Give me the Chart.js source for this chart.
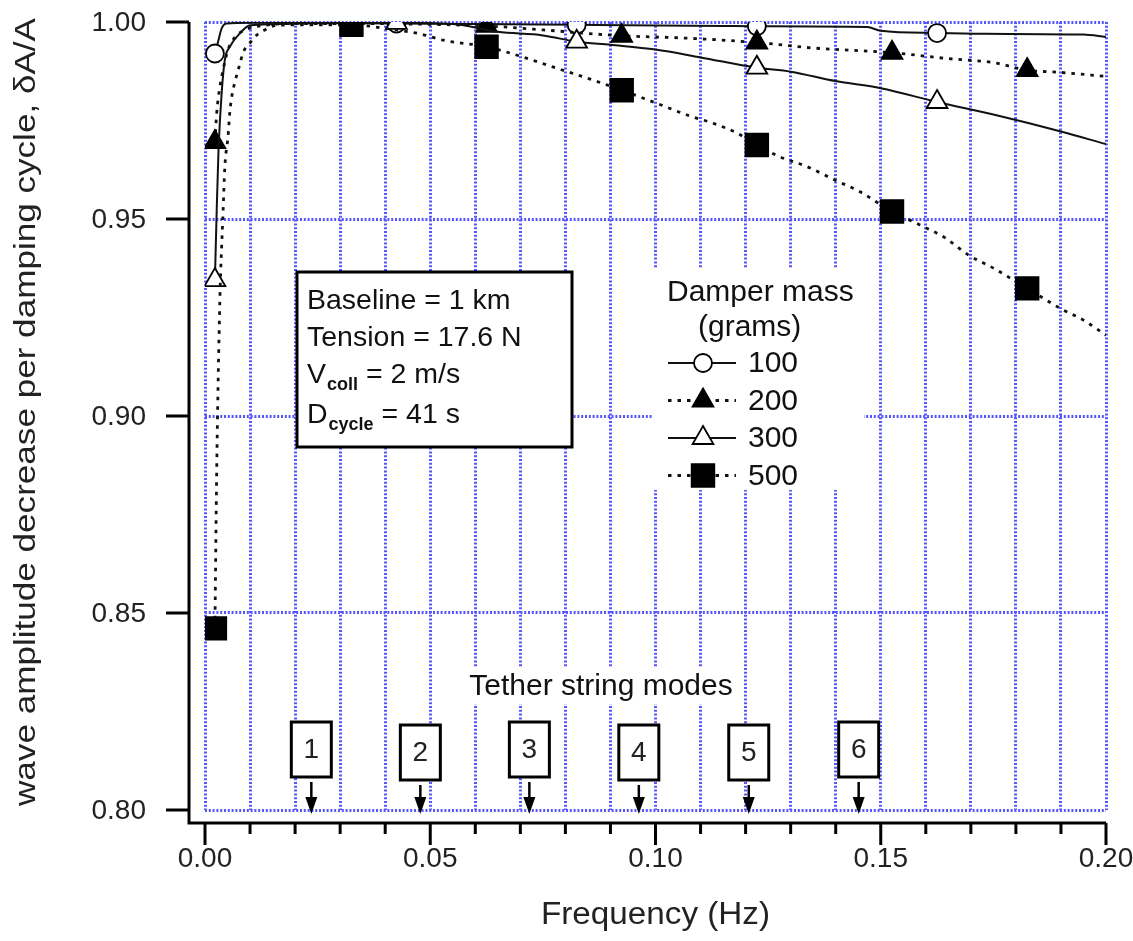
<!DOCTYPE html>
<html>
<head>
<meta charset="utf-8">
<script src="https://cdn.jsdelivr.net/npm/chart.js@4.4.0/dist/chart.umd.min.js"></script>
<style>
  html, body { margin: 0; padding: 0; background: #fff; }
</style>
</head>
<body>
<canvas id="dampingChart" width="1133" height="941"></canvas>
<script>
// Damper mass series (frequency in Hz, amplitude ratio dA/A)
const freq100 = [0.0022, 0.0029, 0.0037, 0.0048, 0.01, 0.0425, 0.0825, 0.115, 0.1225, 0.147, 0.150, 0.1625, 0.173, 0.195, 0.2];
const amp100  = [0.9920, 0.9950, 0.9984, 0.9996, 0.9998, 0.9996, 0.9993, 0.9990, 0.9989, 0.9987, 0.9978, 0.9972, 0.9970, 0.9968, 0.9962];
const mark100 = [0.0022, 0.0425, 0.0825, 0.1225, 0.1625];

const freq200 = [0.0022, 0.0026, 0.0033, 0.0040, 0.0051, 0.0067, 0.0089, 0.0122, 0.02, 0.0325, 0.05, 0.0625, 0.075, 0.0925, 0.105, 0.1225, 0.135, 0.1525, 0.165, 0.175, 0.1825, 0.19, 0.2];
const amp200  = [0.9695, 0.9769, 0.9835, 0.9878, 0.9929, 0.9962, 0.9980, 0.9990, 0.9996, 0.9996, 0.9994, 0.9990, 0.9980, 0.9965, 0.9960, 0.9948, 0.9934, 0.9922, 0.9907, 0.9897, 0.9878, 0.9872, 0.9862];
const mark200 = [0.0022, 0.0325, 0.0625, 0.0925, 0.1225, 0.1525, 0.1825];

const freq300 = [0.0022, 0.0026, 0.003, 0.0037, 0.0044, 0.0055, 0.0078, 0.01, 0.0425, 0.055, 0.065, 0.075, 0.0825, 0.09, 0.1, 0.11, 0.1225, 0.13, 0.14, 0.15, 0.1625, 0.175, 0.19, 0.2];
const amp300  = [0.9345, 0.9523, 0.9675, 0.9820, 0.9904, 0.9937, 0.9972, 0.9992, 0.9998, 0.9995, 0.9975, 0.9966, 0.9950, 0.9942, 0.9930, 0.9910, 0.9884, 0.9874, 0.9850, 0.9832, 0.9797, 0.9765, 0.9722, 0.9690];
const mark300 = [0.0022, 0.0425, 0.0825, 0.1225, 0.1625];

const freq500 = [0.0022, 0.0026, 0.0033, 0.0040, 0.0044, 0.0051, 0.0055, 0.0060, 0.0067, 0.0078, 0.0084, 0.0100, 0.0115, 0.0133, 0.016, 0.0325, 0.041, 0.0477, 0.0528, 0.0625, 0.0706, 0.0772, 0.0855, 0.0925, 0.1, 0.1075, 0.1128, 0.1181, 0.1225, 0.1276, 0.1336, 0.1398, 0.1454, 0.1525, 0.1587, 0.1643, 0.1694, 0.1749, 0.1825, 0.1905, 0.1949, 0.2];
const amp500  = [0.8461, 0.8863, 0.9294, 0.9515, 0.9632, 0.9708, 0.9770, 0.9815, 0.9850, 0.9896, 0.9921, 0.9947, 0.9967, 0.9980, 0.9992, 0.9993, 0.9982, 0.9970, 0.9954, 0.9937, 0.9911, 0.9886, 0.9855, 0.9827, 0.9795, 0.9762, 0.9743, 0.9718, 0.9688, 0.9658, 0.9633, 0.9599, 0.9569, 0.9519, 0.9485, 0.9452, 0.9409, 0.9376, 0.9324, 0.9269, 0.9244, 0.9205];
const mark500 = [0.0022, 0.0325, 0.0625, 0.0925, 0.1225, 0.1525, 0.1825];

// axis ticks
const xTickValues = [0, 0.05, 0.10, 0.15, 0.20];
const xTickLabels = ['0.00', '0.05', '0.10', '0.15', '0.20'];
const yTickValues = [0.80, 0.85, 0.90, 0.95, 1.00];
const yTickLabels = ['0.80', '0.85', '0.90', '0.95', '1.00'];

// tether string modes
const modeFreq = [0.0236, 0.0478, 0.0720, 0.0963, 0.1207, 0.1451];
const modeLabels = ['1', '2', '3', '4', '5', '6'];

const infoLines = [
    ['Baseline = 1 km'],
    ['Tension = 17.6 N'],
    ['V', 'coll', ' = 2 m/s'],
    ['D', 'cycle', ' = 41 s']
];
const legendTitle = ['Damper mass', '(grams)'];

const FONT = '"Liberation Sans", Arial, sans-serif';
const GRID_BLUE = '#5656ff';

function makeSet(label, fx, ay, marks, st) {
    return {
        label: label,
        data: fx.map((f, i) => ({ x: f, y: ay[i] })),
        borderColor: '#111',
        borderWidth: st.width,
        borderDash: st.dash,
        borderCapStyle: 'butt',
        pointStyle: st.point,
        pointRadius: (ctx) => (ctx.raw && marks.includes(ctx.raw.x)) ? st.r : 0,
        pointHoverRadius: (ctx) => (ctx.raw && marks.includes(ctx.raw.x)) ? st.r : 0,
        pointBackgroundColor: st.fill,
        pointBorderColor: '#000',
        pointBorderWidth: 1.8,
        cubicInterpolationMode: 'monotone',
        fill: false,
        order: st.order
    };
}

// marker drawing for the hand-made legend (same geometry as Chart.js point styles)
function drawMarker(ctx, style, r, x, y, fill) {
    ctx.save();
    ctx.setLineDash([]);
    ctx.lineWidth = 1.8;
    ctx.strokeStyle = '#000';
    ctx.fillStyle = fill;
    ctx.beginPath();
    if (style === 'circle') {
        ctx.arc(x, y, r, 0, Math.PI * 2);
    } else if (style === 'triangle') {
        for (let k = 0; k < 3; k++) {
            const a = k * 2 * Math.PI / 3;
            const px = x + Math.sin(a) * r, py = y - Math.cos(a) * r;
            if (k === 0) ctx.moveTo(px, py); else ctx.lineTo(px, py);
        }
        ctx.closePath();
    } else {
        const s = r * Math.SQRT1_2;
        ctx.rect(x - s, y - s, 2 * s, 2 * s);
    }
    ctx.fill();
    ctx.stroke();
    ctx.restore();
}

const decorPlugin = {
    id: 'decor',
    beforeDatasetsDraw(chart) {
        const ctx = chart.ctx;
        const xs = chart.scales.x;
        ctx.save();

        // info box
        ctx.fillStyle = '#fff';
        ctx.fillRect(297, 272, 275, 175);
        ctx.lineWidth = 3;
        ctx.strokeStyle = '#000';
        ctx.strokeRect(297, 272, 275, 175);
        ctx.fillStyle = '#111';
        ctx.textBaseline = 'alphabetic';
        ctx.textAlign = 'left';
        const baseY = [309, 346, 383, 423];
        infoLines.forEach((parts, i) => {
            let x = 307;
            ctx.font = '28.5px ' + FONT;
            ctx.fillText(parts[0], x, baseY[i]);
            if (parts.length > 1) {
                x += ctx.measureText(parts[0]).width + 1;
                ctx.font = 'bold 18px ' + FONT;
                ctx.fillText(parts[1], x, baseY[i] + 7);
                x += ctx.measureText(parts[1]).width;
                ctx.font = '28.5px ' + FONT;
                ctx.fillText(parts[2], x, baseY[i]);
            }
        });

        // legend
        ctx.fillStyle = '#fff';
        ctx.fillRect(652, 268, 212, 222);
        ctx.fillStyle = '#111';
        ctx.font = '30px ' + FONT;
        ctx.textBaseline = 'middle';
        ctx.textAlign = 'left';
        ctx.fillText(legendTitle[0], 667, 293);
        ctx.fillText(legendTitle[1], 698, 328);
        chart.data.datasets.forEach((ds, row) => {
            const y = 363 + row * 37.5;
            ctx.save();
            ctx.strokeStyle = '#111';
            ctx.lineWidth = ds.borderWidth;
            ctx.setLineDash(ds.borderDash || []);
            ctx.beginPath();
            ctx.moveTo(668, y);
            ctx.lineTo(736, y);
            ctx.stroke();
            ctx.restore();
            drawMarker(ctx, ds.pointStyle, ds.legendR, 703, y, ds.pointBackgroundColor);
            ctx.fillStyle = '#111';
            ctx.font = '30px ' + FONT;
            ctx.fillText(ds.label, 748, y + 1);
        });

        // tether string modes
        ctx.font = '30px ' + FONT;
        ctx.textAlign = 'center';
        const tw = ctx.measureText('Tether string modes').width;
        ctx.fillStyle = '#fff';
        ctx.fillRect(601 - tw / 2 - 8, 668, tw + 16, 36);
        ctx.fillStyle = '#111';
        ctx.fillText('Tether string modes', 601, 687);
        modeFreq.forEach((f, i) => {
            const px = xs.getPixelForValue(f);
            const top = (i === 0 || i === 2 || i === 5) ? 722 : 725;
            ctx.fillStyle = '#fff';
            ctx.fillRect(px - 20, top, 40, 55);
            ctx.lineWidth = 3;
            ctx.strokeStyle = '#000';
            ctx.strokeRect(px - 20, top, 40, 55);
            ctx.fillStyle = '#222';
            ctx.font = '28px ' + FONT;
            ctx.textBaseline = 'middle';
            ctx.fillText(modeLabels[i], px, top + 28);
            // arrow
            ctx.lineWidth = 2.5;
            ctx.beginPath();
            ctx.moveTo(px, top + 60);
            ctx.lineTo(px, 800);
            ctx.stroke();
            ctx.fillStyle = '#000';
            ctx.beginPath();
            ctx.moveTo(px - 6, 797);
            ctx.lineTo(px + 6, 797);
            ctx.lineTo(px, 814);
            ctx.closePath();
            ctx.fill();
        });
        ctx.restore();
    },
    afterDraw(chart) {
        const ctx = chart.ctx;
        const xs = chart.scales.x, ys = chart.scales.y;
        const area = chart.chartArea;
        const spineX = 189, spineY = 823;
        ctx.save();
        ctx.strokeStyle = '#000';
        ctx.lineWidth = 3;
        ctx.setLineDash([]);
        ctx.beginPath();
        ctx.moveTo(spineX, area.top);
        ctx.lineTo(spineX, spineY);
        ctx.lineTo(area.right, spineY);
        ctx.stroke();

        // y ticks and labels
        ctx.font = '28px ' + FONT;
        ctx.fillStyle = '#222';
        ctx.textAlign = 'right';
        ctx.textBaseline = 'middle';
        yTickValues.forEach((v, i) => {
            const py = ys.getPixelForValue(v);
            ctx.beginPath();
            ctx.moveTo(166, py);
            ctx.lineTo(spineX, py);
            ctx.stroke();
            ctx.fillText(yTickLabels[i], 146, py + 1);
        });

        // x ticks (minor every 0.01) and labels
        for (let k = 0; k <= 20; k++) {
            const px = xs.getPixelForValue(k / 100);
            const major = k % 5 === 0;
            ctx.beginPath();
            ctx.moveTo(px, spineY);
            ctx.lineTo(px, spineY + (major ? 22 : 11));
            ctx.stroke();
        }
        ctx.textAlign = 'center';
        ctx.font = '28px ' + FONT;
        xTickValues.forEach((v, i) => {
            ctx.fillText(xTickLabels[i], xs.getPixelForValue(v), 859);
        });

        // axis titles
        ctx.save();
        ctx.translate((area.left + area.right) / 2, 915);
        ctx.font = '31px ' + FONT;
        const fw = ctx.measureText('Frequency (Hz)').width;
        ctx.scale(229 / fw, 1);
        ctx.fillText('Frequency (Hz)', 0, 0);
        ctx.restore();

        ctx.save();
        ctx.translate(27, 412);
        ctx.rotate(-Math.PI / 2);
        ctx.font = '30px ' + FONT;
        const title = 'wave amplitude decrease per damping cycle, \u03B4A/A';
        const w = ctx.measureText(title).width;
        ctx.scale(788 / w, 1);
        ctx.fillText(title, 0, 0);
        ctx.restore();

        ctx.restore();
    }
};

const sets = [
    makeSet('100', freq100, amp100, mark100, { width: 2, dash: [], point: 'circle', r: 9, fill: '#fff', order: 4 }),
    makeSet('200', freq200, amp200, mark200, { width: 2.8, dash: [3.5, 6], point: 'triangle', r: 12, fill: '#000', order: 3 }),
    makeSet('300', freq300, amp300, mark300, { width: 2, dash: [], point: 'triangle', r: 12, fill: '#fff', order: 2 }),
    makeSet('500', freq500, amp500, mark500, { width: 2.8, dash: [3.5, 6], point: 'rect', r: 16, fill: '#000', order: 1 })
];
sets[0].legendR = 9; sets[1].legendR = 12; sets[2].legendR = 12; sets[3].legendR = 16;

new Chart(document.getElementById('dampingChart'), {
    type: 'line',
    data: { datasets: sets },
    options: {
        responsive: false,
        devicePixelRatio: 1,
        animation: false,
        layout: { padding: { left: 205, top: 22, right: 27, bottom: 131 } },
        plugins: {
            legend: { display: false },
            tooltip: { enabled: false }
        },
        scales: {
            x: {
                type: 'linear',
                min: 0,
                max: 0.2,
                ticks: { display: false, stepSize: 0.01 },
                grid: { color: GRID_BLUE, lineWidth: 3, drawTicks: false },
                border: { display: false, dash: [2, 1.8] }
            },
            y: {
                type: 'linear',
                min: 0.8,
                max: 1.0,
                ticks: { display: false, stepSize: 0.05 },
                grid: { color: GRID_BLUE, lineWidth: 3, drawTicks: false },
                border: { display: false, dash: [2, 1.8] }
            }
        }
    },
    plugins: [decorPlugin]
});
</script>
</body>
</html>
